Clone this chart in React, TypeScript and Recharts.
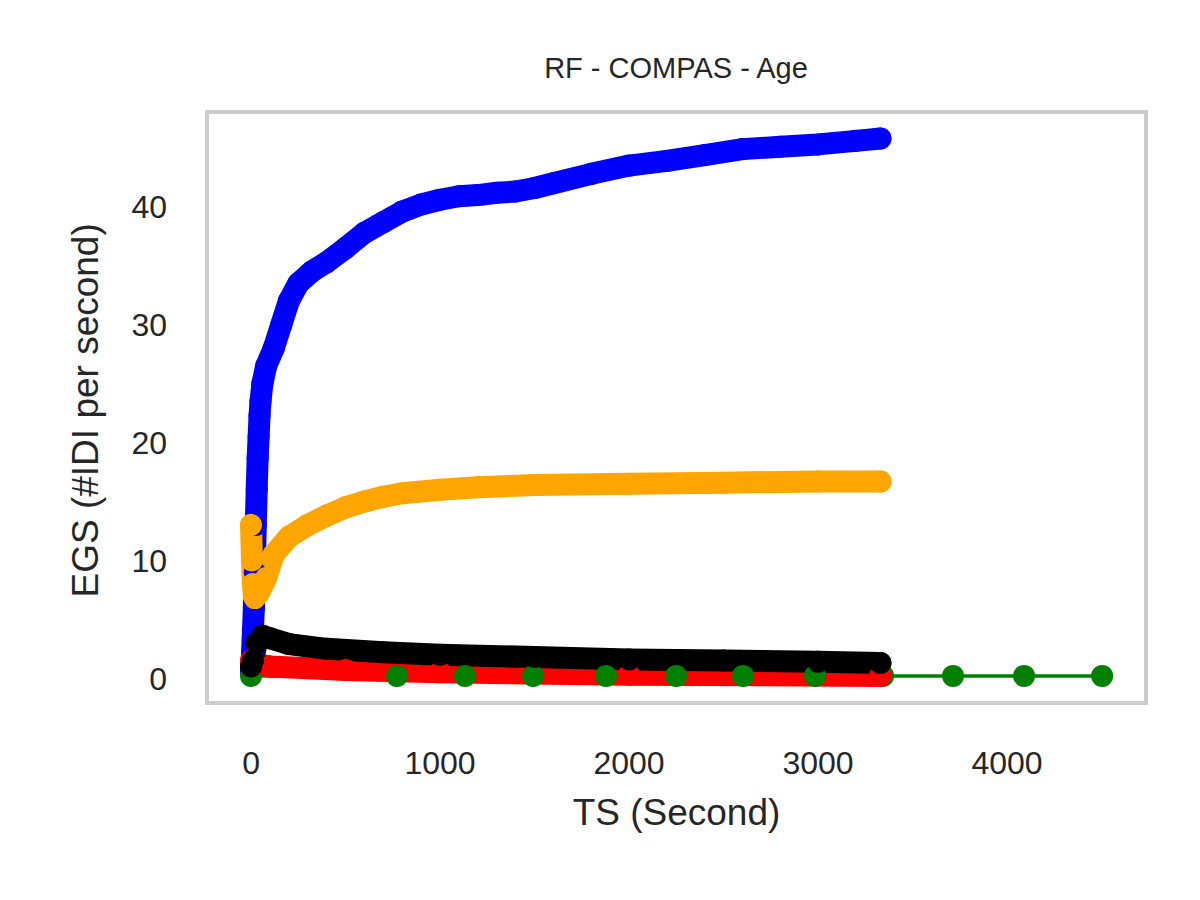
import { LineChart, Line, XAxis, YAxis, ReferenceArea } from 'recharts';

const blueTs = [0, 5, 10, 15, 20, 25, 30, 35, 40, 45, 50, 60, 80, 120, 160, 200, 250, 320, 400, 500, 600, 700, 800, 900, 1000, 1100, 1200, 1300, 1400, 1500, 1600, 1800, 2000, 2200, 2400, 2600, 2800, 3000, 3200, 3330];
const blueEgs = [0.5, 2, 4, 6, 9, 13, 16, 18.7, 20.5, 22.3, 23.5, 25, 26.5, 28, 30, 32, 33.5, 34.5, 35.3, 36.5, 37.8, 38.7, 39.6, 40.2, 40.6, 40.9, 41, 41.2, 41.3, 41.6, 42, 42.8, 43.5, 43.9, 44.4, 44.9, 45.1, 45.3, 45.6, 45.8];

const orangeTs = [0, 5, 10, 15, 20, 40, 80, 120, 200, 300, 400, 500, 600, 700, 800, 1000, 1200, 1500, 2000, 2500, 3000, 3330];
const orangeEgs = [13, 10, 8, 7, 6.8, 7.2, 8.5, 10.5, 12, 13, 13.8, 14.5, 15, 15.4, 15.7, 16, 16.2, 16.4, 16.5, 16.6, 16.7, 16.7];

const blackTs = [0, 10, 30, 60, 100, 200, 400, 700, 1000, 1500, 2000, 2500, 3000, 3330];
const blackEgs = [1, 1.5, 3, 3.6, 3.4, 2.9, 2.5, 2.2, 2, 1.8, 1.6, 1.5, 1.4, 1.3];

const redTs = [0, 20, 100, 500, 1000, 2000, 3330];
const redEgs = [1.5, 1.2, 1, 0.7, 0.5, 0.3, 0.2];

const greenTs = [0, 772, 1132, 1492, 1878, 2249, 2603, 2984, 3344, 3714, 4090, 4503];
const greenEgs = [0.2, 0.2, 0.2, 0.2, 0.2, 0.2, 0.2, 0.2, 0.2, 0.2, 0.2, 0.2];

const xTicks = [0, 1000, 2000, 3000, 4000];
const yTicks = [0, 10, 20, 30, 40];

const zip = (ts: number[], ys: number[]) => ts.map((t, i) => ({ ts: t, egs: ys[i] }));

const font = '"Liberation Sans", Arial, sans-serif';

function App() {
  const thick = (color: string, ts: number[], ys: number[], name: string) => (
    <Line
      key={name}
      data={zip(ts, ys)}
      dataKey="egs"
      type="linear"
      stroke={color}
      strokeWidth={22}
      strokeLinecap="round"
      strokeLinejoin="round"
      dot={{ r: 11, fill: color, stroke: 'none' }}
      isAnimationActive={false}
    />
  );
  return (
    <div style={{ margin: -8, width: 1200, height: 900, background: '#fff', fontFamily: font, position: 'relative' }}>
      <div style={{ position: 'absolute', top: 52, left: 0, width: 1352, textAlign: 'center', fontSize: 29, color: '#262626' }}>
        RF - COMPAS - Age
      </div>
      <LineChart width={1200} height={900} margin={{ top: 112, right: 54, left: 147, bottom: 137 }}>
        <XAxis
          type="number"
          dataKey="ts"
          domain={[-233, 4735]}
          ticks={xTicks}
          allowDuplicatedCategory={false}
          axisLine={false}
          tickLine={false}
          tickSize={0}
          tickMargin={48}
          height={60}
          tick={{ fontSize: 32, fill: '#262626', fontFamily: font }}
          label={{ value: 'TS (Second)', position: 'insideBottom', offset: -62, fontSize: 37, fill: '#262626', fontFamily: font }}
        />
        <YAxis
          type="number"
          domain={[-2.1, 48.05]}
          ticks={yTicks}
          axisLine={false}
          tickLine={false}
          tickSize={0}
          tickMargin={40}
          width={60}
          tick={{ fontSize: 32, fill: '#262626', fontFamily: font }}
          label={{ value: 'EGS (#IDI  per second)', angle: -90, position: 'insideLeft', offset: -62, dy: 190, fontSize: 37, fill: '#262626', fontFamily: font }}
        />
        <ReferenceArea x1={-233} x2={4735} y1={-2.1} y2={48.05} fill="none" stroke="#cccccc" strokeWidth={4} ifOverflow="visible" />
        {thick('#0000ff', blueTs, blueEgs, 'blue')}
        <Line
          data={zip(greenTs, greenEgs)}
          dataKey="egs"
          type="linear"
          stroke="#008000"
          strokeWidth={3.5}
          dot={{ r: 11, fill: '#008000', stroke: 'none' }}
          isAnimationActive={false}
        />
        {thick('#ff0000', redTs, redEgs, 'red')}
        {thick('#ffa500', orangeTs, orangeEgs, 'orange')}
        {thick('#000000', blackTs, blackEgs, 'black')}
      </LineChart>
    </div>
  );
}

export default App;
